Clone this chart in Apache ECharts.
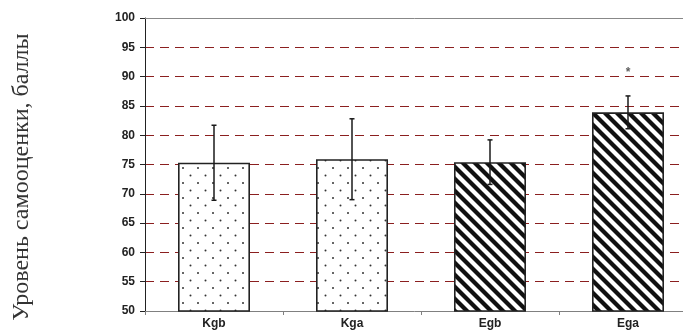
<!DOCTYPE html>
<html>
<head>
<meta charset="utf-8">
<script src="https://cdn.jsdelivr.net/npm/echarts@6/dist/echarts.min.js"></script>
<style>html,body{margin:0;padding:0;background:#fff}#c{width:683px;height:336px}</style>
</head>
<body>
<div id="c"></div>
<script>
var categories = ['Kgb', 'Kga', 'Egb', 'Ega'];
var means = [75.3, 75.9, 75.4, 83.9];
var errors = [6.4, 6.9, 3.8, 2.8];
var patterns = ['dots', 'dots', 'stripes', 'stripes'];
var markCategory = ['Ega'];
var markValue = [90.6];
var yTicks = [50, 55, 60, 65, 70, 75, 80, 85, 90, 95, 100];
var yTitle = 'Уровень самооценки, баллы';

function makeDots() {
  var c = document.createElement('canvas');
  c.width = 15; c.height = 15;
  var g = c.getContext('2d');
  g.fillStyle = '#fff'; g.fillRect(0, 0, 15, 15);
  g.fillStyle = '#333';
  g.beginPath(); g.arc(3, 3, 1, 0, Math.PI * 2); g.fill();
  g.beginPath(); g.arc(10.5, 10.5, 1, 0, Math.PI * 2); g.fill();
  return c;
}
function makeStripes() {
  var s = 12;
  var c = document.createElement('canvas');
  c.width = s; c.height = s;
  var g = c.getContext('2d');
  g.fillStyle = '#fff'; g.fillRect(0, 0, s, s);
  g.strokeStyle = '#111'; g.lineWidth = 4.2;
  for (var k = -1; k <= 1; k++) {
    g.beginPath(); g.moveTo(-2, -2 + s * k); g.lineTo(s + 2, s + 2 + s * k); g.stroke();
  }
  return c;
}
var pat = { dots: { image: makeDots(), repeat: 'repeat' }, stripes: { image: makeStripes(), repeat: 'repeat' } };

var barData = means.map(function (v, i) {
  return { value: v, itemStyle: { color: pat[patterns[i]] } };
});
var errData = means.map(function (v, i) { return [i, v - errors[i], v + errors[i]]; });
var markData = markCategory.map(function (c, i) { return [c, markValue[i]]; });

var chart = echarts.init(document.getElementById('c'), null, { renderer: 'canvas' });
chart.setOption({
  animation: false,
  backgroundColor: '#fff',
  grid: { left: 145, top: 18, width: 552, height: 293, containLabel: false, outerBoundsMode: 'none' },
  xAxis: [{
    type: 'category', data: categories, position: 'bottom',
    axisLine: { lineStyle: { color: '#808080', width: 1 } },
    axisTick: { show: true, alignWithLabel: false, length: 4, lineStyle: { color: '#808080' } },
    axisLabel: { margin: 7, fontFamily: 'Liberation Sans', fontWeight: 'bold', fontSize: 12, color: '#222' }
  }, {
    type: 'category', data: categories, position: 'top',
    axisLine: { show: true, lineStyle: { color: '#888', width: 1 } },
    axisTick: { show: false }, axisLabel: { show: false }
  }],
  yAxis: {
    type: 'value', min: 50, max: 100, interval: 5,
    axisLine: { show: true, lineStyle: { color: '#222', width: 1 } },
    axisTick: { show: true, length: 5, lineStyle: { color: '#222' } },
    axisLabel: { margin: 10, fontFamily: 'Liberation Sans', fontWeight: 'bold', fontSize: 12, color: '#222',
      formatter: function (v) { return yTicks.indexOf(v) >= 0 ? String(v) : ''; } },
    splitLine: { show: true, lineStyle: { color: '#8b1f1f', type: [9, 6], width: 1 } }
  },
  series: [{
    type: 'bar', data: barData, barWidth: 72,
    itemStyle: { borderColor: '#222', borderWidth: 1.6 },
    z: 2
  }, {
    type: 'custom', data: errData, z: 5,
    renderItem: function (params, api) {
      var x = api.value(0);
      var lo = api.coord([x, api.value(1)]);
      var hi = api.coord([x, api.value(2)]);
      var st = { stroke: '#1a1a1a', lineWidth: 1.5 };
      return { type: 'group', children: [
        { type: 'line', shape: { x1: hi[0], y1: hi[1], x2: lo[0], y2: lo[1] }, style: st },
        { type: 'line', shape: { x1: hi[0] - 2.5, y1: hi[1], x2: hi[0] + 2.5, y2: hi[1] }, style: st },
        { type: 'line', shape: { x1: lo[0] - 2.5, y1: lo[1], x2: lo[0] + 2.5, y2: lo[1] }, style: st }
      ] };
    }
  }, {
    type: 'scatter', data: markData, symbolSize: 0, z: 6,
    label: { show: true, position: 'inside', formatter: '*', fontFamily: 'Liberation Sans', fontWeight: 'bold', fontSize: 12, color: '#333' }
  }],
  graphic: [{
    type: 'text', rotation: Math.PI / 2,
    x: 22, y: 177,
    style: { text: yTitle, font: '24px "Liberation Serif"', fill: '#333', textAlign: 'center', textVerticalAlign: 'middle' }
  }]
});
</script>
</body>
</html>
